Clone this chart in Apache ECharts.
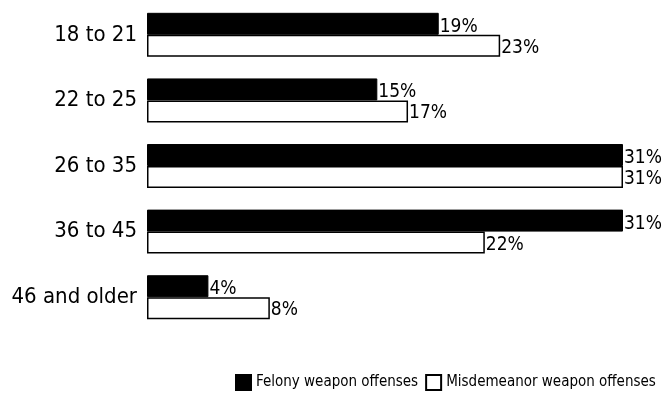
<!DOCTYPE html>
<html>
<head>
<meta charset="utf-8">
<script src="https://cdn.jsdelivr.net/npm/echarts@6/dist/echarts.min.js"></script>
<style>
  html, body { margin: 0; padding: 0; background: #fff; }
  #chart { width: 669px; height: 400px; }
</style>
</head>
<body>
<div id="chart"></div>
<script>
// age groups, top to bottom
const ageGroups = ['18 to 21', '22 to 25', '26 to 35', '36 to 45', '46 and older'];
const felony = [19, 15, 31, 31, 4];
const misdemeanor = [23, 17, 31, 22, 8];
const seriesNames = ['Felony weapon offenses', 'Misdemeanor weapon offenses'];

const FONT = "'DejaVu Sans Condensed', sans-serif";

const chart = echarts.init(document.getElementById('chart'));
chart.setOption({
    animation: false,
    textStyle: { fontFamily: FONT, color: '#000' },
    grid: { left: 147, right: 46, top: 2, bottom: 70 },
    xAxis: {
        type: 'value',
        min: 0,
        max: 31,
        show: false
    },
    yAxis: {
        type: 'category',
        data: ageGroups,
        inverse: true,
        axisLine: { show: false },
        axisTick: { show: false },
        axisLabel: {
            fontSize: 22,
            color: '#000',
            margin: 10,
            fontFamily: FONT
        }
    },
    legend: {
        top: 369,
        left: 230,
        right: 0,
        itemWidth: 15,
        itemHeight: 15,
        itemGap: 7,
        icon: 'rect',
        textStyle: { fontSize: 15, color: '#000', fontFamily: FONT },
        data: seriesNames
    },
    series: [
        {
            name: seriesNames[0],
            type: 'bar',
            data: felony,
            barGap: '0%',
            barCategoryGap: '33%',
            itemStyle: { color: '#000', borderColor: '#000', borderWidth: 1 },
            label: {
                show: true,
                position: 'right',
                distance: 1,
                offset: [0, 3],
                formatter: '{c}%',
                fontSize: 19,
                color: '#000',
                fontFamily: FONT
            }
        },
        {
            name: seriesNames[1],
            type: 'bar',
            data: misdemeanor,
            itemStyle: { color: '#fff', borderColor: '#000', borderWidth: 1.5 },
            label: {
                show: true,
                position: 'right',
                distance: 1,
                offset: [0, 2],
                formatter: '{c}%',
                fontSize: 19,
                color: '#000',
                fontFamily: FONT
            }
        }
    ]
});
</script>
</body>
</html>
